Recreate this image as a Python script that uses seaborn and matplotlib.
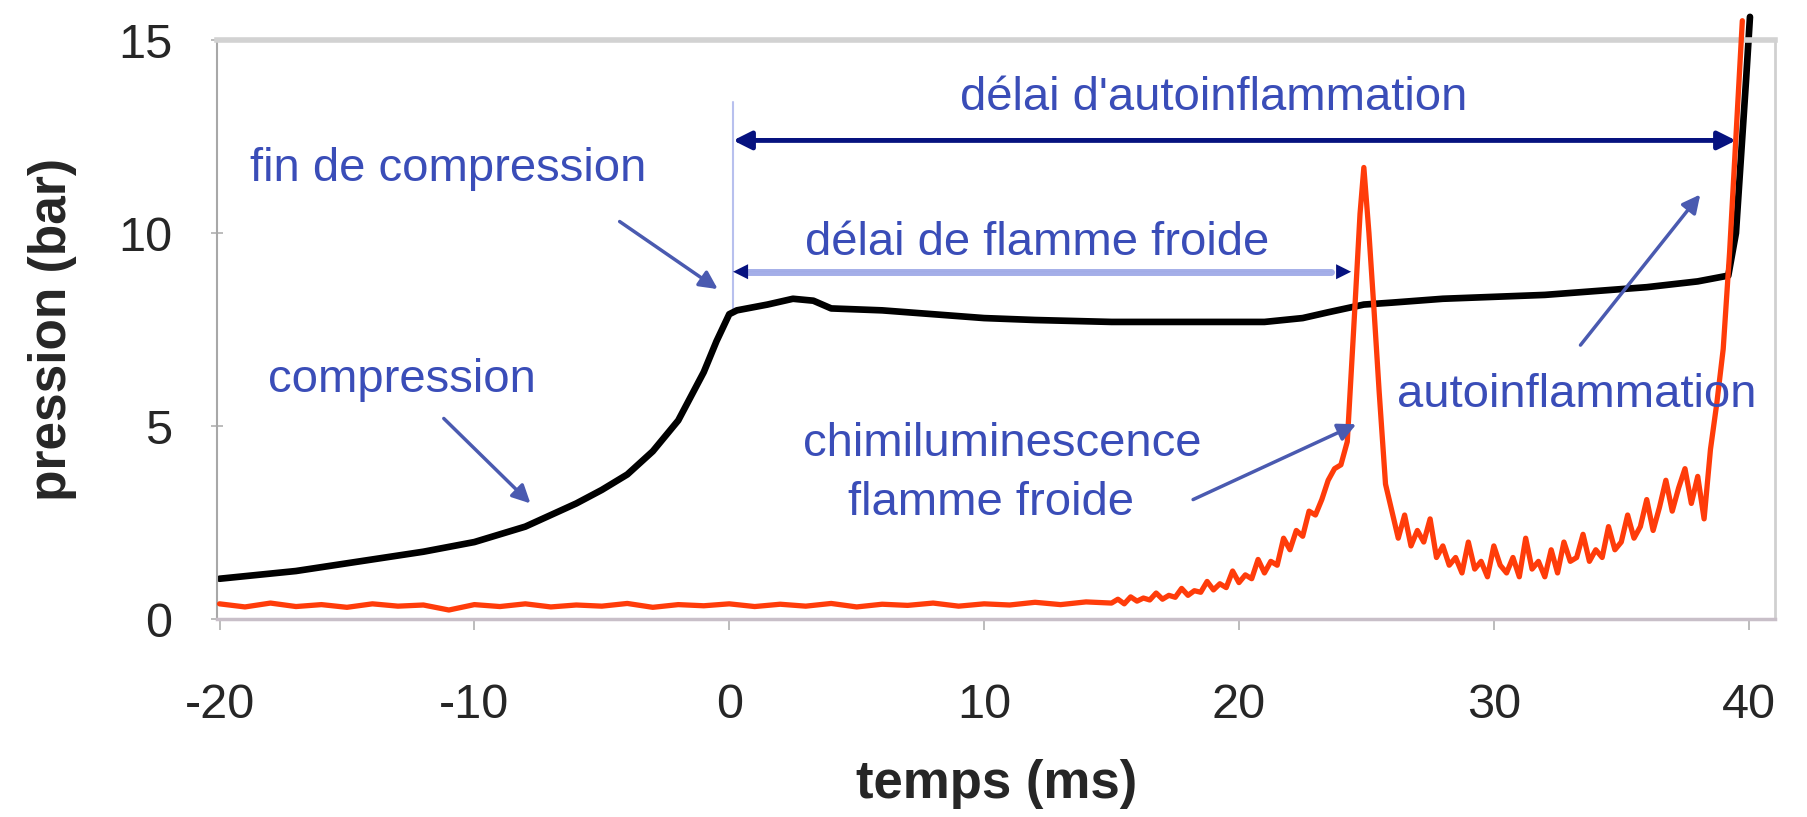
import matplotlib
matplotlib.use("Agg")
import matplotlib.pyplot as plt
import seaborn as sns
import pandas as pd

# ---- data ----
pression_t = [-20, -17, -15, -12, -10, -8, -7, -6, -5, -4, -3, -2, -1, -0.5, 0, 0.3, 1.5,
              2.5, 3.3, 4, 6, 8, 10, 12, 15, 18, 21, 22.5, 23.5, 24.9, 26, 28, 30, 32,
              34, 36, 38, 39.2, 39.5, 39.7, 39.9, 40.05]
pression_p = [1.05, 1.25, 1.45, 1.75, 2.0, 2.4, 2.7, 3.0, 3.35, 3.75, 4.35, 5.15, 6.4,
              7.2, 7.9, 8.0, 8.15, 8.3, 8.25, 8.05, 8.0, 7.9, 7.8, 7.75, 7.7, 7.7, 7.7,
              7.8, 7.95, 8.15, 8.2, 8.3, 8.35, 8.4, 8.5, 8.6, 8.75, 8.9, 10.0, 12.0,
              14.0, 15.6]

chimi_t = [-20, -19, -18, -17, -16, -15, -14, -13, -12, -11, -10, -9, -8, -7, -6, -5,
           -4, -3, -2, -1, 0, 1, 2, 3, 4, 5, 6, 7, 8, 9, 10, 11, 12, 13, 14,
           15, 15.25, 15.5, 15.75, 16, 16.25, 16.5, 16.75, 17, 17.25, 17.5, 17.75,
           18, 18.25, 18.5, 18.75, 19, 19.25, 19.5, 19.75, 20, 20.25, 20.5, 20.75,
           21, 21.25, 21.5, 21.75, 22, 22.25, 22.5, 22.75, 23, 23.25, 23.5, 23.75,
           24, 24.25, 24.5, 24.75, 24.9, 25.1, 25.3, 25.5, 25.75, 26, 26.25, 26.5,
           26.75, 27, 27.25, 27.5, 27.75, 28, 28.25, 28.5, 28.75, 29, 29.25, 29.5,
           29.75, 30, 30.25, 30.5, 30.75, 31, 31.25, 31.5, 31.75, 32, 32.25, 32.5,
           32.75, 33, 33.25, 33.5, 33.75, 34, 34.25, 34.5, 34.75, 35, 35.25, 35.5,
           35.75, 36, 36.25, 36.5, 36.75, 37, 37.25, 37.5, 37.75, 38, 38.25, 38.5,
           38.75, 39, 39.25, 39.5, 39.75]
chimi_v = [0.40, 0.32, 0.42, 0.33, 0.38, 0.31, 0.40, 0.34, 0.37, 0.24, 0.38, 0.33, 0.40,
           0.32, 0.37, 0.34, 0.41, 0.31, 0.38, 0.35, 0.40, 0.33, 0.39, 0.34, 0.41, 0.32,
           0.39, 0.36, 0.42, 0.34, 0.40, 0.37, 0.44, 0.38, 0.45,
           0.42, 0.52, 0.40, 0.58, 0.47, 0.55, 0.50, 0.68, 0.52, 0.62, 0.57, 0.80,
           0.62, 0.74, 0.70, 0.98, 0.76, 0.92, 0.82, 1.25, 0.95, 1.15, 1.05, 1.55,
           1.20, 1.50, 1.40, 2.10, 1.80, 2.30, 2.15, 2.80, 2.70, 3.10, 3.60, 3.90,
           4.00, 4.60, 7.50, 10.50, 11.70, 10.00, 8.00, 5.90, 3.50, 2.80, 2.10, 2.70,
           1.90, 2.30, 2.00, 2.60, 1.60, 1.90, 1.40, 1.60, 1.20, 2.00, 1.30, 1.50,
           1.10, 1.90, 1.40, 1.20, 1.60, 1.10, 2.10, 1.30, 1.50, 1.10, 1.80, 1.20,
           2.00, 1.50, 1.60, 2.20, 1.50, 1.80, 1.60, 2.40, 1.80, 2.00, 2.70, 2.10,
           2.40, 3.10, 2.30, 2.90, 3.60, 2.80, 3.40, 3.90, 3.00, 3.70, 2.60, 4.40,
           5.60, 7.00, 9.50, 12.50, 15.50]

x_ticks = [-20, -10, 0, 10, 20, 30, 40]
y_ticks = [0, 5, 10, 15]
x_label = "temps (ms)"
y_label = "pression (bar)"

df_p = pd.DataFrame({"t": pression_t, "v": pression_p})
df_c = pd.DataFrame({"t": chimi_t, "v": chimi_v})

sns.set_theme(style="white")
plt.rcParams["font.family"] = ["Liberation Sans", "DejaVu Sans"]

fig = plt.figure(figsize=(18.08, 8.17), dpi=100)
ax = fig.add_axes([0.120, 0.242, 0.862, 0.709])

sns.lineplot(data=df_c, x="t", y="v", ax=ax, color="#ff3c0a", lw=3.8,
             estimator=None, sort=False, clip_on=False, zorder=3)
sns.lineplot(data=df_p, x="t", y="v", ax=ax, color="black", lw=4.8,
             estimator=None, sort=False, clip_on=False, zorder=2)

ax.set_xlim(-20.1, 41.05)
ax.set_ylim(0, 15)
ax.set_xticks(x_ticks)
ax.set_yticks(y_ticks)
ax.set_xticklabels([str(v) for v in x_ticks])
ax.set_yticklabels([str(v) for v in y_ticks])
ax.tick_params(axis="x", labelsize=35, pad=38, direction="out", length=8,
               width=1.2, color="#b0b0b0", bottom=True)
ax.tick_params(axis="y", labelsize=35, pad=28, direction="inout", length=8,
               width=1.2, color="#b0b0b0", left=True)
ax.set_xlabel(x_label, fontsize=38, fontweight="bold", labelpad=22)
ax.set_ylabel(y_label, fontsize=37, fontweight="bold", labelpad=30)

ax.spines["top"].set_color("#d2d2d2")
ax.spines["top"].set_linewidth(4)
ax.spines["left"].set_color("#a8a8a8")
ax.spines["left"].set_linewidth(1.5)
ax.spines["right"].set_color("#d0d0d0")
ax.spines["right"].set_linewidth(2)
ax.spines["bottom"].set_color("#c8bfc8")
ax.spines["bottom"].set_linewidth(2.5)
ax.grid(False)

txt = "#3a4db8"
navy = "#06127f"
fs = 34

# vertical reference line at end of compression
ax.plot([0.15, 0.15], [7.9, 13.4], color="#b8c0ee", lw=1.5, zorder=1)

# délai d'autoinflammation
ax.text(19.0, 13.5, "délai d'autoinflammation", color=txt, fontsize=fs,
        ha="center", va="center")
ax.annotate("", xy=(39.5, 12.4), xytext=(0.15, 12.4),
            arrowprops=dict(arrowstyle="<|-|>,head_length=0.9,head_width=0.45",
                            color=navy, lw=3.5, shrinkA=0, shrinkB=0))

# délai de flamme froide
ax.text(12.1, 9.75, "délai de flamme froide", color=txt, fontsize=fs,
        ha="center", va="center")
ax.plot([0.6, 23.6], [9.0, 9.0], color="#a4aee8", lw=5, zorder=1)
ax.annotate("", xy=(24.4, 9.0), xytext=(0.15, 9.0),
            arrowprops=dict(arrowstyle="<|-|>,head_length=0.9,head_width=0.45",
                            color=navy, lw=0.01, shrinkA=0, shrinkB=0))

# fin de compression
ax.text(-18.8, 11.65, "fin de compression", color=txt, fontsize=fs,
        ha="left", va="center")
ax.annotate("", xy=(-0.45, 8.55), xytext=(-4.3, 10.3),
            arrowprops=dict(arrowstyle="-|>,head_length=0.9,head_width=0.45",
                            color="#4a5ab0", lw=2.5, shrinkA=0, shrinkB=0))

# compression
ax.text(-18.1, 6.2, "compression", color=txt, fontsize=fs, ha="left", va="center")
ax.annotate("", xy=(-7.8, 3.0), xytext=(-11.2, 5.2),
            arrowprops=dict(arrowstyle="-|>,head_length=0.9,head_width=0.45",
                            color="#4a5ab0", lw=2.5, shrinkA=0, shrinkB=0))

# chimiluminescence flamme froide
ax.text(2.9, 4.55, "chimiluminescence", color=txt, fontsize=fs, ha="left", va="center")
ax.text(4.65, 3.0, "flamme froide", color=txt, fontsize=fs, ha="left", va="center")
ax.annotate("", xy=(24.6, 5.05), xytext=(18.2, 3.1),
            arrowprops=dict(arrowstyle="-|>,head_length=0.9,head_width=0.45",
                            color="#4a5ab0", lw=2.5, shrinkA=0, shrinkB=0))

# autoinflammation
ax.text(26.2, 5.8, "autoinflammation", color=txt, fontsize=fs, ha="left",
        va="center", zorder=5)
ax.annotate("", xy=(38.1, 11.0), xytext=(33.4, 7.1),
            arrowprops=dict(arrowstyle="-|>,head_length=0.9,head_width=0.45",
                            color="#4a5ab0", lw=2.5, shrinkA=0, shrinkB=0))

fig.savefig("out.png", dpi=100)
